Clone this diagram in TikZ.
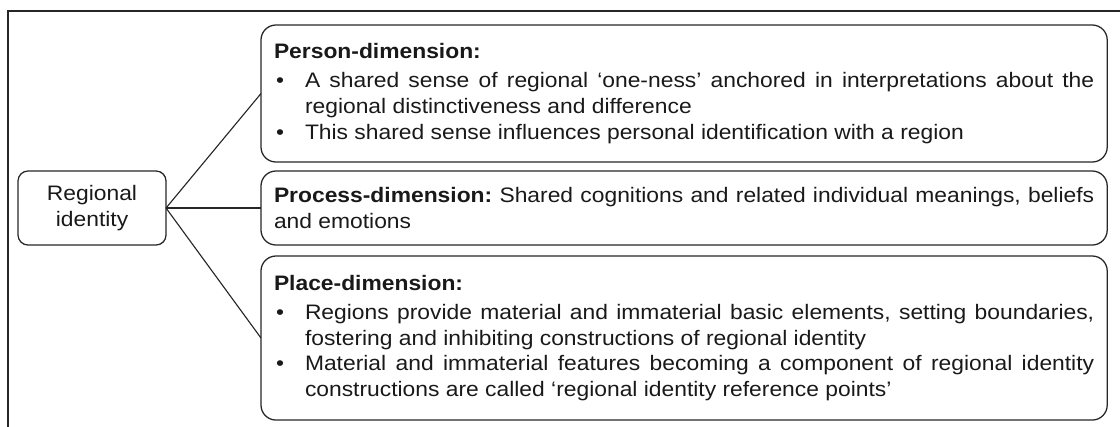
\documentclass[tikz,border=0pt]{standalone}
\usepackage{fontspec}
\setmainfont{Liberation Sans}[FakeStretch=1.09]
\usepackage{tikz}
\setlength{\parindent}{0pt}
\frenchspacing
\hyphenpenalty=10000
\exhyphenpenalty=10000

\newcommand{\dimhead}[1]{\textbf{#1}\par\vspace{0.09cm}}
\newcommand{\dimitem}{\par\noindent\hangindent=0.775cm\hangafter=1\makebox[0.775cm][l]{\hspace{0.05cm}\textbullet}}

\begin{document}
\begin{tikzpicture}[x=0.025cm, y=-0.025cm,
  txt/.style={font=\fontsize{14.9pt}{18.2pt}\selectfont, text=black!90},
  dimbox/.style={txt, draw=black!85, line width=0.9pt, rounded corners=0.375cm, anchor=north west,
    text width=20.5cm, inner xsep=0.325cm, inner ysep=0pt, minimum width=21.15cm, align=justify, outer sep=0pt},
  rootbox/.style={txt, draw=black!85, line width=0.9pt, rounded corners=0.25cm,
    anchor=north west, minimum width=3.7cm, minimum height=1.85cm, align=center, outer sep=0pt},
  link/.style={draw=black!85, line width=0.8pt},
  frame/.style={draw=black!85, line width=0.8pt}]
 \useasboundingbox (0,0) rectangle (1120,427);
 \draw [frame] (8,11) rectangle (1140,450);

 \node [rootbox] (ri) at (18,171) {Regional\\identity};

 \node [dimbox, minimum height=3.425cm] (person) at (261,25) {\dimhead{Person-dimension:}
  \dimitem A shared sense of regional ‘one-ness’ anchored in interpretations about the\linebreak regional distinctiveness and difference
  \dimitem This shared sense influences personal identification with a region\par};

 \node [dimbox, minimum height=1.85cm] (process) at (261,171) {\textbf{Process-dimension:} Shared cognitions and related individual meanings, beliefs\linebreak and emotions\par};

 \node [dimbox, minimum height=4.1cm] (place) at (261,256) {\dimhead{Place-dimension:}
  \dimitem Regions provide material and immaterial basic elements, setting boundaries,\linebreak fostering and inhibiting constructions of regional identity
  \dimitem Material and immaterial features becoming a component of regional identity\linebreak constructions are called ‘regional identity reference points’\par};

 \draw [link] (ri.east) -- (person.west);
 \draw [link] (ri.east) -- (process.west);
 \draw [link] (ri.east) -- (place.west);
\end{tikzpicture}
\end{document}
